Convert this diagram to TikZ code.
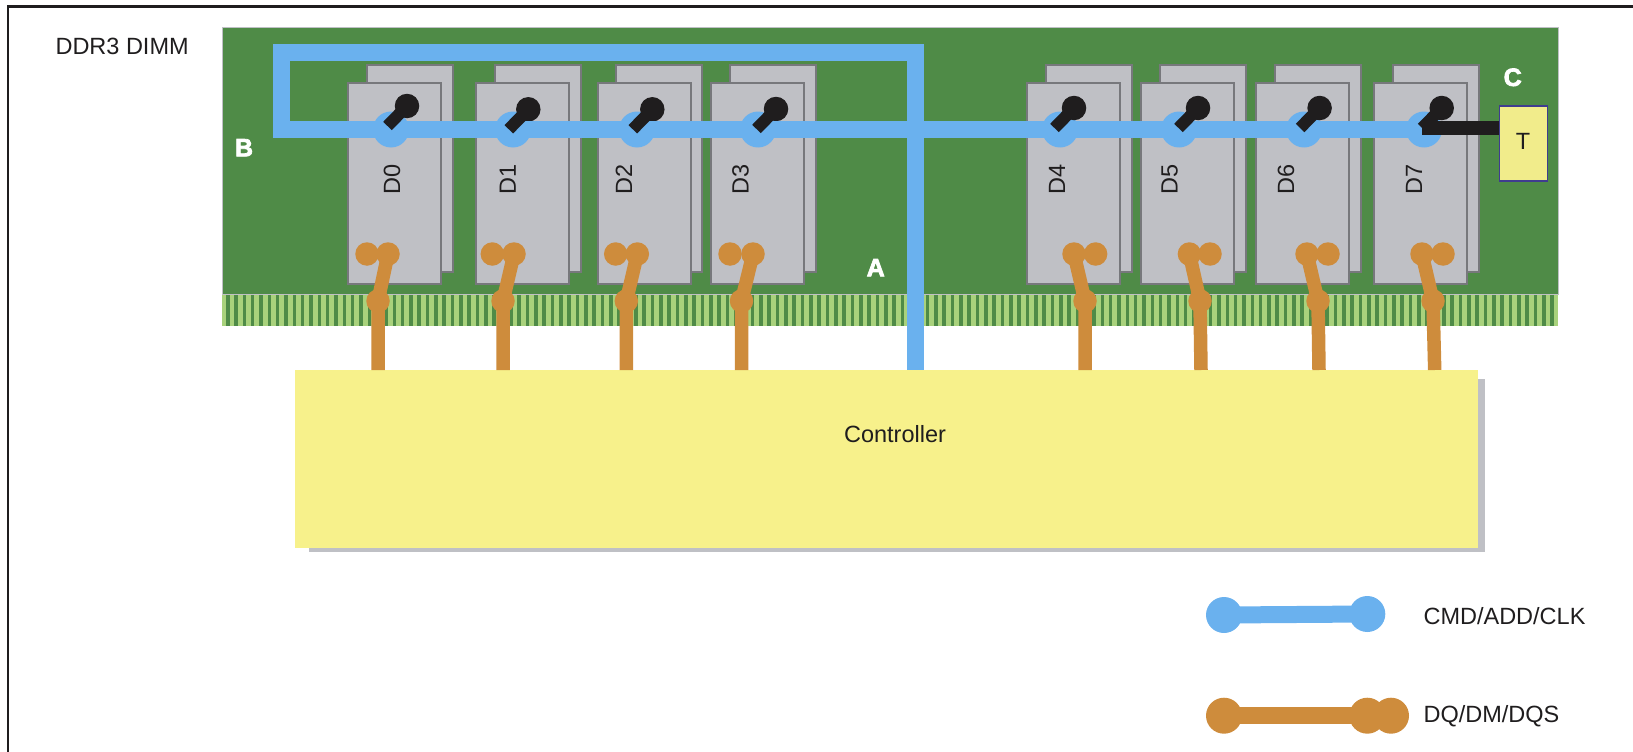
\documentclass[tikz,border=0pt]{standalone}
\usepackage{fontspec}
\setmainfont{Liberation Sans}
\newfontface\tagfont[FakeBold=3]{Liberation Sans Bold}
\definecolor{boardgreen}{HTML}{4F8B47}
\definecolor{fingergreen}{HTML}{A9D27C}
\definecolor{chipgray}{HTML}{BFC0C5}
\definecolor{chipedge}{HTML}{77787C}
\definecolor{busblue}{HTML}{6AB1EE}
\definecolor{dqorange}{HTML}{CE8C3C}
\definecolor{ctrlyellow}{HTML}{F7F18B}
\definecolor{termyellow}{HTML}{F1EC8B}
\definecolor{termedge}{HTML}{3F3C8F}
\definecolor{inkblack}{HTML}{1F1D1E}
\def\fsize{\fontsize{23.5}{28}\selectfont}

\begin{document}
\begin{tikzpicture}[x=1pt,y=-1pt,every node/.style={text=inkblack,font=\fsize}]
  \tikzstyle{chip}=[rectangle,draw=chipedge,line width=2pt,fill=chipgray,minimum width=93pt,minimum height=201pt,inner sep=0pt]
  \tikzstyle{chipback}=[chip,minimum width=86pt,minimum height=207pt]
  \tikzstyle{pad}=[circle,fill=busblue,minimum size=36pt,inner sep=0pt]
  \tikzstyle{blob}=[circle,fill=inkblack,minimum size=24.5pt,inner sep=0pt]
  \tikzstyle{dqpad}=[circle,fill=dqorange,minimum size=23.5pt,inner sep=0pt]
  \tikzstyle{bus}=[draw=busblue,line width=17pt]
  \tikzstyle{dq}=[draw=dqorange,line width=13.5pt]
  \tikzstyle{stem}=[draw=inkblack,line width=12pt]
  \tikzstyle{tag}=[text=white,font=\fontsize{25}{30}\selectfont\tagfont]

  \useasboundingbox (0,0) rectangle (1633,752);
  \draw[inkblack,line width=2.5pt] (8,752) -- (8,6.5) -- (1633,6.5);

  % board and fingers
  \fill[fingergreen] (222,294) rectangle (1558,326);
  \foreach \i in {0,...,159}
    \fill[boardgreen] ({225.9+8.33*\i},294) rectangle ({229.5+8.33*\i},326);
  \draw[fill=boardgreen,draw=chipgray,line width=1pt] (222,28) rectangle (1558,294);

  \node[anchor=west] (title) at (52,46) {DDR3 DIMM};

  % controller
  \fill[chipgray] (309,379) rectangle (1485,551.5);
  \node[rectangle,fill=ctrlyellow,minimum width=1183pt,minimum height=178pt,inner sep=0pt] (Controller) at (886.5,459) {};
  \node (ctrl-label) at (895,434) {Controller};

  % chips
  \foreach \name / \cx / \padx / \blobx / \bloby / \dql / \dqr / \dqj / \dqb / \src / \lab in
    {0/394.2/391/407/106/367/388/378/378/R/392,
     1/522.3/513/528.3/109.3/492.3/514/503/503/R/507.7,
     2/644/637/652.3/109.3/615.7/637.3/626.3/626.3/R/624,
     3/757.7/758/776/109/730/753/741.5/741.5/R/740.5,
     4/1073.8/1060/1074/108/1074/1095.6/1085/1085/L/1057,
     5/1187.2/1179/1198/108/1189.4/1210/1200/1201/L/1169.6,
     6/1302.5/1304/1319.6/108/1307/1328/1318/1319/L/1286,
     7/1420.7/1424/1441.7/108/1422/1443/1433/1434.7/L/1414}
  {
    \node[chipback] (Db-\name) at (\cx+15.3,168.3) {};
    \node[chip] (D-\name) at (\cx,183.8) {};
    \node[rotate=90] (Dl-\name) at (\lab,179) {D\name};
    \node[pad] (P-\name) at (\padx,129.5) {};
    \node[blob] (S-\name) at (\blobx,\bloby) {};
    \coordinate (Se-\name) at ([shift={(-19.5,20)}]S-\name.center);
    \node[dqpad] (DQL-\name) at (\dql,254) {};
    \node[dqpad] (DQR-\name) at (\dqr,254) {};
    \node[dqpad] (J-\name) at (\dqj,301) {};
    \coordinate (Jb-\name) at (\dqb,370);
    \draw[dq] (DQ\src-\name.center) -- (J-\name.center) -- (Jb-\name);
  }

  % command bus
  \coordinate (Lb) at (281.5,129.5);
  \coordinate (Lt) at (281.5,52.5);
  \coordinate (Rt) at (915.5,52.5);
  \coordinate (Rb) at (915.5,370);
  \draw[bus] (P-7.center) -- (Lb) -- (Lt) -- (Rt) -- (Rb);

  % stems on top of the bus
  \foreach \name in {0,...,7}
    \draw[stem] (S-\name.center) -- (Se-\name);

  % terminator
  \node[rectangle,draw=termedge,line width=1.5pt,fill=termyellow,minimum width=48pt,minimum height=75pt,inner sep=0pt] (T) at (1523.5,143.5) {};
  \node (T-label) at (1523,141) {T};
  \coordinate (Tj) at (Se-7);
  \draw[draw=inkblack,line width=13.5pt] (Tj) -- (Tj -| T.west);

  \node[tag] (A) at (875.7,267.7) {A};
  \node[tag] (B) at (244,147.7) {B};
  \node[tag] (C) at (1512.7,77.3) {C};

  % legend
  \node[pad] (k1a) at (1224,615) {};
  \node[pad] (k1b) at (1367.3,614) {};
  \draw[bus] (k1a.center) -- (k1b.center);
  \node[anchor=west] (k1) at (1420,616.5) {CMD/ADD/CLK};
  \node[pad,fill=dqorange] (k2a) at (1224,715.7) {};
  \node[pad,fill=dqorange] (k2b) at (1367.3,715.7) {};
  \node[pad,fill=dqorange] (k2c) at (1391,715.7) {};
  \draw[bus,draw=dqorange] (k2a.center) -- (k2b.center);
  \node[anchor=west] (k2) at (1420,716) {DQ/DM/DQS};
\end{tikzpicture}
\end{document}
